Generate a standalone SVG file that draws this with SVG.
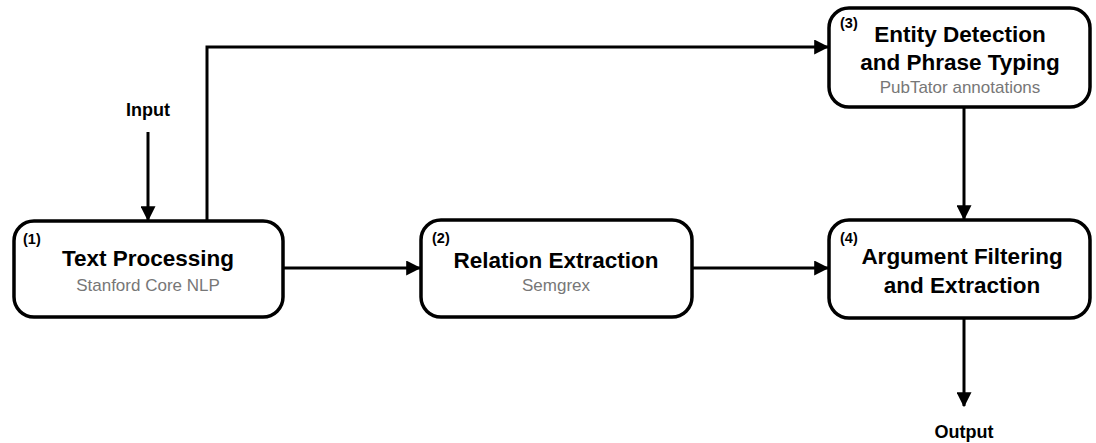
<svg xmlns="http://www.w3.org/2000/svg" width="1096" height="443" viewBox="0 0 1096 443">
<defs>
<marker id="ah" markerWidth="5" markerHeight="5" refX="4.6" refY="2.5" orient="auto" markerUnits="strokeWidth">
<path d="M0,0 L5,2.5 L0,5 Z" fill="#000"/>
</marker>
<style>
.box{fill:#fff;stroke:#000;stroke-width:3.5}
.t{font-family:"Liberation Sans",Arial,sans-serif;font-weight:bold;font-size:22.5px;fill:#000;text-anchor:middle}
.s{font-family:"Liberation Sans",Arial,sans-serif;font-size:17px;fill:#777;text-anchor:middle}
.n{font-family:"Liberation Sans",Arial,sans-serif;font-weight:bold;font-size:14.5px;fill:#000}
.l{font-family:"Liberation Sans",Arial,sans-serif;font-weight:bold;font-size:18px;fill:#000;text-anchor:middle}
.c{fill:none;stroke:#000;stroke-width:3;marker-end:url(#ah)}
</style>
</defs>
<rect width="1096" height="443" fill="#fff"/>
<g id="connectors">
<path class="c" d="M148,132 V220"/>
<path class="c" d="M207,220 V47 H828"/>
<path class="c" d="M284,268 H420"/>
<path class="c" d="M693,268 H828"/>
<path class="c" d="M964,108 V219"/>
<path class="c" d="M964,318 V406"/>
</g>
<g id="input"><text class="l" x="148" y="116">Input</text></g>
<g id="output"><text class="l" x="964" y="438">Output</text></g>
<g id="n1">
<rect class="box" x="14" y="221" width="269" height="96" rx="20"/>
<text class="n" x="23" y="244">(1)</text>
<text class="t" x="148" y="266">Text Processing</text>
<text class="s" x="148" y="291">Stanford Core NLP</text>
</g>
<g id="n2">
<rect class="box" x="421" y="220" width="271" height="97" rx="20"/>
<text class="n" x="432" y="243">(2)</text>
<text class="t" x="556" y="268">Relation Extraction</text>
<text class="s" x="556" y="291">Semgrex</text>
</g>
<g id="n3">
<rect class="box" x="829" y="8" width="261" height="99" rx="20"/>
<text class="n" x="840" y="28">(3)</text>
<text class="t" x="960" y="42">Entity Detection</text>
<text class="t" x="960" y="70">and Phrase Typing</text>
<text class="s" x="960" y="93">PubTator annotations</text>
</g>
<g id="n4">
<rect class="box" x="829" y="220" width="261" height="98" rx="20"/>
<text class="n" x="840" y="243">(4)</text>
<text class="t" x="962" y="264">Argument Filtering</text>
<text class="t" x="962" y="293">and Extraction</text>
</g>
</svg>
